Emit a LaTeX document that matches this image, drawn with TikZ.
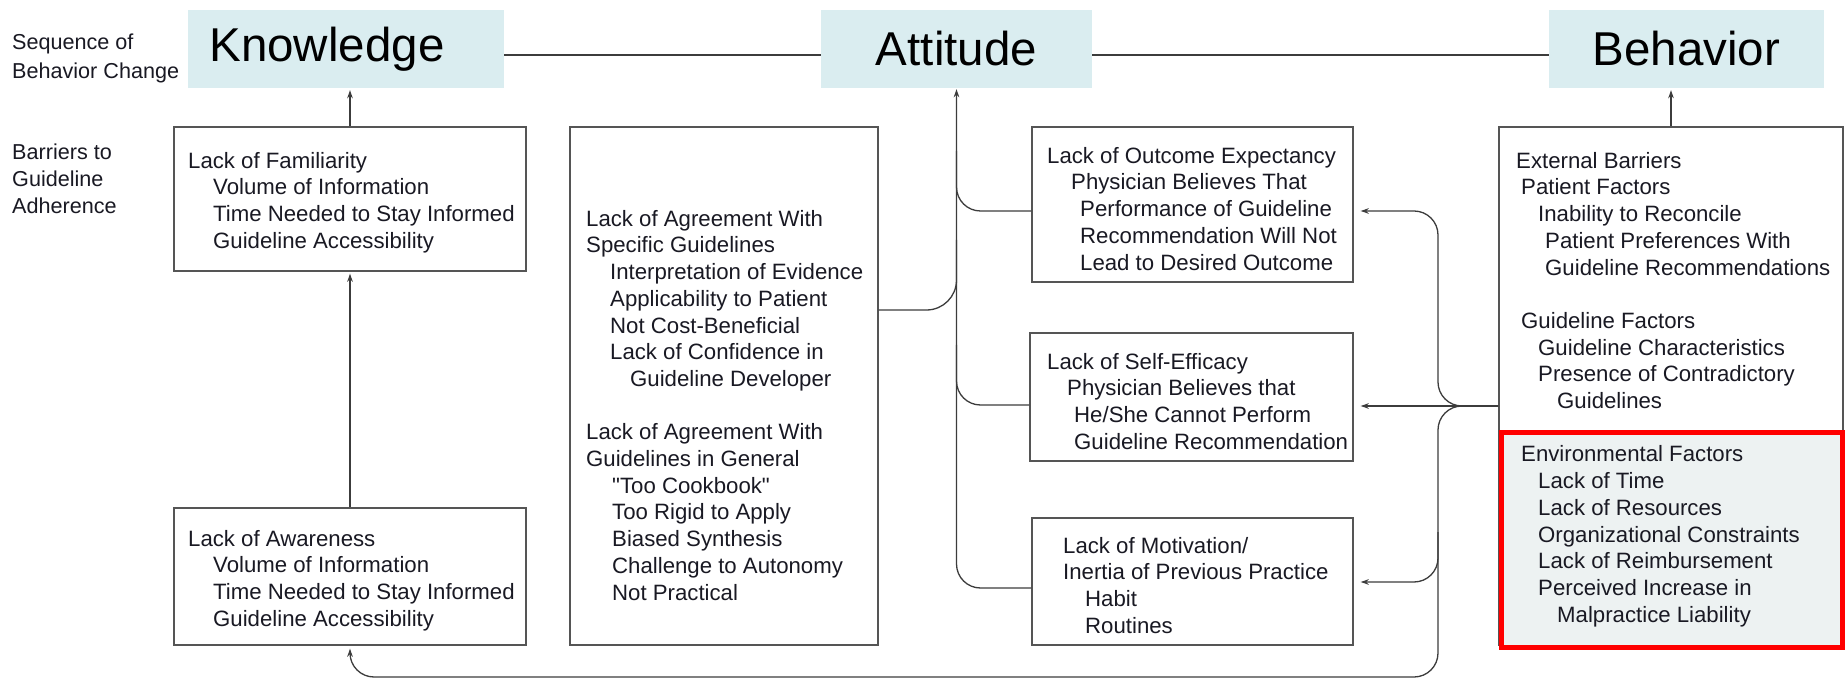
\documentclass[tikz,border=0pt]{standalone}
\usepackage{fontspec}
\setmainfont{Liberation Sans}
\newfontfamily\plainfont{Liberation Sans}
\usetikzlibrary{arrows.meta,calc}
\definecolor{titlefill}{RGB}{218,237,240}
\definecolor{envfill}{RGB}{237,242,242}
\definecolor{linecol}{RGB}{60,60,60}
\definecolor{boxcol}{RGB}{85,85,85}
\definecolor{txtcol}{RGB}{25,25,35}
\definecolor{redcol}{RGB}{255,0,0}
\newcommand{\myind}[1]{\hspace*{#1pt}}
\begin{document}
\begin{tikzpicture}[x=1pt,y=-1pt,
  title/.style={fill=titlefill, draw=none, inner sep=0pt, font=\fontsize{47.5}{50}\selectfont, text=black},
  box/.style={draw=boxcol, line width=1.4pt, fill=white, inner sep=0pt},
  txt/.style={anchor=north west, inner sep=0pt, align=left, text=txtcol, font=\fontsize{22.2}{26.7}\selectfont},
  lbl/.style={anchor=north west, inner sep=0pt, align=left, text=txtcol},
  conn/.style={draw=linecol, line width=1.3pt},
  arr/.style={conn, -{Stealth[length=8pt,width=5.5pt]}},
]
\useasboundingbox (0,0) rectangle (1845,684);
\fill[white] (0,0) rectangle (1845,684);

% title boxes
\node[title, minimum width=316pt, minimum height=78pt] (know) at (346,49) {Knowledge\hspace*{38pt}};
\node[title, minimum width=271pt, minimum height=78pt] (att) at (956.5,49) {Attitude};
\node[title, minimum width=275pt, minimum height=78pt] (beh) at (1686.5,49) {Behavior};

% side labels
\node[lbl, font=\fontsize{21.6}{29}\selectfont] (seq) at (12,34) {Sequence of\\Behavior Change};
\node[lbl, font=\fontsize{21.6}{27}\selectfont] (bar) at (12,144) {Barriers to\\Guideline\\Adherence};

% boxes
\node[box, minimum width=352pt, minimum height=144pt] (fam) at (350,199) {};
\node[box, minimum width=352pt, minimum height=137pt] (aw) at (350,576.5) {};
\node[box, minimum width=308pt, minimum height=518pt] (mid) at (724,386) {};
\node[box, minimum width=321pt, minimum height=155pt] (out) at (1192.5,204.5) {};
\node[box, minimum width=323pt, minimum height=128pt] (self) at (1191.5,397) {};
\node[box, minimum width=321pt, minimum height=127pt] (mot) at (1192.5,581.5) {};
\node[box, minimum width=344pt, minimum height=518pt] (ext) at (1671,386) {};
\node[draw=redcol, line width=5pt, fill=envfill, inner sep=0pt, minimum width=341pt, minimum height=214pt] (env) at (1672,540) {};

% texts
\node[txt] (famT) at (188,152) {Lack of Familiarity\\
\myind{25}Volume of Information\\
\myind{25}Time Needed to Stay Informed\\
\myind{25}Guideline Accessibility};
\node[txt] (awT) at (188,530) {Lack of Awareness\\
\myind{25}Volume of Information\\
\myind{25}Time Needed to Stay Informed\\
\myind{25}Guideline Accessibility};
\node[txt] (midT) at (586,210) {Lack of Agreement With\\
Specific Guidelines\\
\myind{24}Interpretation of Evidence\\
\myind{24}Applicability to Patient\\
\myind{24}Not Cost-Beneficial\\
\myind{24}Lack of Confidence in\\
\myind{44}Guideline Developer\\[26.7pt]
Lack of Agreement With\\
Guidelines in General\\
\myind{26}{\plainfont "Too Cookbook"}\\
\myind{26}Too Rigid to Apply\\
\myind{26}Biased Synthesis\\
\myind{26}Challenge to Autonomy\\
\myind{26}Not Practical};
\node[txt] (outT) at (1047,147) {Lack of Outcome Expectancy\\
\myind{24}Physician Believes That\\
\myind{33}Performance of Guideline\\
\myind{33}Recommendation Will Not\\
\myind{33}Lead to Desired Outcome};
\node[txt] (selfT) at (1047,353) {Lack of Self-Efficacy\\
\myind{20}Physician Believes that\\
\myind{27}He/She Cannot Perform\\
\myind{27}Guideline Recommendation};
\node[txt] (motT) at (1063,537) {Lack of Motivation/\\
Inertia of Previous Practice\\
\myind{22}Habit\\
\myind{22}Routines};
\node[txt] (extT) at (1516,152) {External Barriers\\
\myind{5}Patient Factors\\
\myind{22}Inability to Reconcile\\
\myind{29}Patient Preferences With\\
\myind{29}Guideline Recommendations\\[26.7pt]
\myind{5}Guideline Factors\\
\myind{22}Guideline Characteristics\\
\myind{22}Presence of Contradictory\\
\myind{41}Guidelines\\[26.7pt]
\myind{5}Environmental Factors\\
\myind{22}Lack of Time\\
\myind{22}Lack of Resources\\
\myind{22}Organizational Constraints\\
\myind{22}Lack of Reimbursement\\
\myind{22}Perceived Increase in\\
\myind{41}Malpractice Liability};

% y levels
\coordinate (yOut) at (0,211);
\coordinate (ySelf) at (0,405);
\coordinate (yMot) at (0,588);
\coordinate (yMid) at (0,310);
\coordinate (yJ) at (0,406);
\coordinate (yMotR) at (0,582);
\coordinate (yBot) at (0,677);
\coordinate (xR) at (1438,0);

% top line
\draw[conn] ([yshift=-6pt]know.east) -- ([yshift=-6pt]att.west);
\draw[conn] ([yshift=-6pt]att.east) -- ([yshift=-6pt]beh.west);

% knowledge column
\draw[arr, shorten >=2pt] (fam.north) -- (fam.north |- know.south);
\draw[arr, shorten >=2pt] (aw.north) -- (fam.south);

% attitude column
\draw[arr, rounded corners=24pt, shorten >=1pt] (mot.west |- yMot) -- (att.south |- yMot) -- (att.south);
\draw[conn, rounded corners=24pt] (out.west |- yOut) -- (att.south |- yOut) -- ($(att.south |- yOut)+(0,-60)$);
\draw[conn, rounded corners=24pt] (self.west |- ySelf) -- (att.south |- ySelf) -- ($(att.south |- ySelf)+(0,-60)$);
\draw[conn, rounded corners=30pt] (mid.east |- yMid) -- (att.south |- yMid) -- ($(att.south |- yMid)+(0,-70)$);

% behavior column
\draw[arr, shorten >=2pt] (ext.north) -- (ext.north |- beh.south);
\draw[arr, shorten >=7pt, rounded corners=24pt] (ext.west |- yJ) -- (xR |- yJ) -- (xR |- yOut) -- (out.east |- yOut);
\draw[arr, shorten >=7pt] (ext.west |- yJ) -- (self.east |- yJ);
\draw[arr, shorten >=3pt, rounded corners=24pt] (ext.west |- yJ) -- (xR |- yJ) -- (xR |- yBot) -- (aw.south |- yBot) -- (aw.south);
\draw[arr, shorten >=7pt, rounded corners=24pt] ($(xR |- yMotR)+(0,-50)$) -- (xR |- yMotR) -- (mot.east |- yMotR);
\end{tikzpicture}
\end{document}
